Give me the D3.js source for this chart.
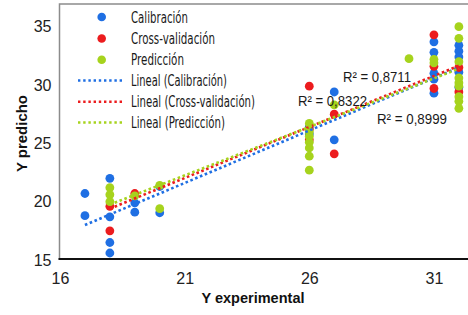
<!DOCTYPE html>
<html>
<head>
<meta charset="utf-8">
<script src="https://cdn.jsdelivr.net/npm/d3@7/dist/d3.min.js"></script>
<style>
  body { margin: 0; background: #fff; }
  svg { display: block; }
</style>
</head>
<body>
<div id="chart"></div>
<script>
(function () {
    'use strict';
    var width = 468;
    var height = 315;

    // data: [x, y]
    var calibracion = [
        [17, 20.7], [17, 18.8],
        [18, 22.0], [18, 18.7], [18, 16.5], [18, 15.6],
        [19, 19.9], [19, 19.1],
        [20, 21.3], [20, 19.05],
        [26, 26.4], [26, 25.8],
        [27, 29.4], [27, 25.3],
        [31, 33.7], [31, 32.8], [31, 31.0], [31, 30.5], [31, 29.3],
        [32, 33.4], [32, 32.9], [32, 32.4], [32, 31.1], [32, 29.8]
    ];
    var crossValidacion = [
        [18, 19.6], [18, 17.5],
        [19, 20.7],
        [26, 29.9], [26, 26.2], [26, 25.3],
        [27, 27.5], [27, 24.1],
        [31, 34.3], [31, 31.6], [31, 29.7],
        [32, 31.5], [32, 29.4]
    ];
    var prediccion = [
        [18, 21.2], [18, 20.6], [18, 20.0],
        [19, 20.5],
        [20, 21.4], [20, 19.4],
        [26, 26.7], [26, 26.0], [26, 25.6], [26, 25.1], [26, 24.6], [26, 23.9], [26, 22.7],
        [27, 28.3],
        [30, 32.25],
        [31, 32.2], [31, 31.9],
        [32, 35.0], [32, 34.0], [32, 32.0], [32, 30.6], [32, 30.2], [32, 29.9], [32, 29.0], [32, 28.6], [32, 28.0]
    ];

    // trendline end points
    var linCal = [[17, 18.0], [32, 31.5]];
    var linCross = [[18, 19.4], [32, 31.65]];
    var linPred = [[18, 19.75], [32, 31.4]];

    var xTicks = [16, 21, 26, 31];
    var yTicks = [15, 20, 25, 30, 35];
    var r2Labels = ['R² = 0,8711', 'R² = 0,8322', 'R² = 0,8999'];
    var legendNames = ['Calibración', 'Cross-validación', 'Predicción',
        'Lineal (Calibración)', 'Lineal (Cross-validación)', 'Lineal (Predicción)'];

    var colors = ['#1f6fe3', '#ec1c1e', '#a6d31d'];

    var x = d3.scaleLinear().domain([16, 33]).range([60, 483.8]);
    var y = d3.scaleLinear().domain([15, 37]).range([260, 3.3]);

    var svg = d3.select('#chart').append('svg')
        .attr('width', width)
        .attr('height', height);

    // plot frame
    svg.append('rect')
        .attr('x', 59.5).attr('y', 4)
        .attr('width', 430).attr('height', 255)
        .attr('fill', 'none')
        .attr('stroke', '#8c8c8c')
        .attr('stroke-width', 1.5);

    // axes (labels only)
    var yAxis = d3.axisLeft(y).tickValues(yTicks).tickSize(0).tickPadding(8);
    var gy = svg.append('g').attr('transform', 'translate(59.5,0)').call(yAxis);
    gy.select('.domain').remove();
    gy.selectAll('text')
        .attr('font-family', 'Liberation Sans, Arial, sans-serif')
        .attr('font-size', 16).attr('fill', '#222');

    var xAxis = d3.axisBottom(x).tickValues(xTicks).tickSize(0).tickPadding(14);
    var gx = svg.append('g').attr('transform', 'translate(0,259)').call(xAxis);
    gx.select('.domain').remove();
    gx.selectAll('text')
        .attr('font-family', 'Liberation Sans, Arial, sans-serif')
        .attr('font-size', 16).attr('fill', '#222');

    svg.append('line')
        .attr('x1', 58.5).attr('x2', width)
        .attr('y1', 259).attr('y2', 259)
        .attr('stroke', '#111').attr('stroke-width', 2.2);

    // points
    var series = [calibracion, crossValidacion, prediccion];
    series.forEach(function (s, i) {
        svg.append('g').selectAll('circle').data(s).enter()
            .append('circle')
            .attr('cx', function (d) { return x(d[0]); })
            .attr('cy', function (d) { return y(d[1]); })
            .attr('r', 4.4)
            .attr('fill', colors[i]);
    });

    // trendlines
    var line = d3.line()
        .x(function (d) { return x(d[0]); })
        .y(function (d) { return y(d[1]); });
    [linCal, linCross, linPred].forEach(function (l, i) {
        svg.append('path')
            .attr('d', line(l))
            .attr('fill', 'none')
            .attr('stroke', colors[i])
            .attr('stroke-width', 2.6)
            .attr('stroke-dasharray', '2.6,2.6');
    });

    // R² labels
    var r2Pos = [[343, 82, 68], [298, 106, 69], [377, 124, 70]];
    svg.selectAll('.r2').data(r2Labels).enter()
        .append('text')
        .attr('class', 'r2')
        .attr('x', function (d, i) { return r2Pos[i][0]; })
        .attr('y', function (d, i) { return r2Pos[i][1]; })
        .attr('textLength', function (d, i) { return r2Pos[i][2]; })
        .attr('lengthAdjust', 'spacingAndGlyphs')
        .attr('font-family', 'Liberation Sans, Arial, sans-serif')
        .attr('font-size', 14)
        .attr('fill', '#1a1a1a')
        .text(function (d) { return d; });

    // legend
    var legY = [17, 38.5, 59.7, 80.5, 101.7, 122.5];
    var legW = [57, 84, 53, 96, 124, 94];
    var leg = svg.append('g');
    legendNames.forEach(function (name, i) {
        if (i < 3) {
            leg.append('circle')
                .attr('cx', 101.7).attr('cy', legY[i])
                .attr('r', 4.3).attr('fill', colors[i]);
        } else {
            leg.append('line')
                .attr('x1', 78).attr('x2', 124)
                .attr('y1', legY[i]).attr('y2', legY[i])
                .attr('stroke', colors[i - 3])
                .attr('stroke-width', 2.4)
                .attr('stroke-dasharray', '2.4,2.8');
        }
        leg.append('text')
            .attr('x', 131)
            .attr('y', legY[i] + 5.5)
            .attr('textLength', legW[i])
            .attr('lengthAdjust', 'spacingAndGlyphs')
            .attr('font-family', 'Liberation Sans Narrow, DejaVu Sans Condensed, sans-serif')
            .attr('font-size', 15)
            .attr('fill', '#1a1a1a')
            .text(name);
    });

    // axis titles
    svg.append('text')
        .attr('x', 253).attr('y', 303)
        .attr('text-anchor', 'middle')
        .attr('font-family', 'Liberation Sans, Arial, sans-serif')
        .attr('font-weight', 'bold')
        .attr('font-size', 15)
        .attr('textLength', 103)
        .attr('lengthAdjust', 'spacingAndGlyphs')
        .attr('fill', '#111')
        .text('Y experimental');

    svg.append('text')
        .attr('transform', 'translate(27,133.5) rotate(-90)')
        .attr('text-anchor', 'middle')
        .attr('font-family', 'Liberation Sans, Arial, sans-serif')
        .attr('font-weight', 'bold')
        .attr('font-size', 15)
        .attr('textLength', 77)
        .attr('lengthAdjust', 'spacingAndGlyphs')
        .attr('fill', '#111')
        .text('Y predicho');
}());
</script>
</body>
</html>
